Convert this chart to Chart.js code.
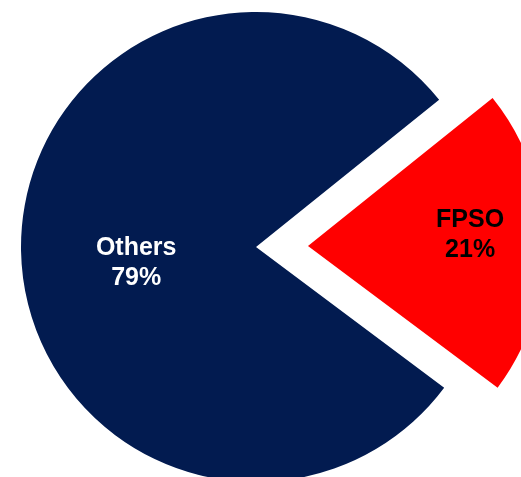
<!DOCTYPE html>
<html>
<head>
<meta charset="utf-8">
<style>
  html, body { margin: 0; padding: 0; background: #fff; overflow: hidden; }
  #wrap { position: relative; width: 521px; height: 477px; }
</style>
<script src="https://cdn.jsdelivr.net/npm/chart.js@4.4.1/dist/chart.umd.min.js"></script>
</head>
<body>
<div id="wrap"><canvas id="pie"></canvas></div>
<script>
'use strict';

// ─── Data ─────────────────────────────────────────────────────────────────────

const categories = ['FPSO', 'Others'];
const shares = [21, 79];
const sliceColors = ['#ff0000', '#021b50'];
const labelColors = ['#000000', '#ffffff'];

// ─── Slice labels (name + percent, drawn inside each slice) ──────────────────

const labelRadius = [0.69, 0.51];
const labelNudgeY = [-8, 14];

const sliceLabels = {
  id: 'sliceLabels',
  afterDatasetsDraw(chart) {
    const { ctx } = chart;
    const arcs = chart.getDatasetMeta(0).data;
    ctx.save();
    ctx.font = 'bold 25px "Liberation Sans", Arial, sans-serif';
    ctx.textAlign = 'center';
    ctx.textBaseline = 'middle';
    arcs.forEach((arc, i) => {
      const { x, y, startAngle, endAngle, outerRadius } = arc.getProps(
        ['x', 'y', 'startAngle', 'endAngle', 'outerRadius'], true);
      const mid = (startAngle + endAngle) / 2;
      const shift = (arc.options.offset || 0) / 4;
      const r = shift + outerRadius * labelRadius[i];
      const lx = x + Math.cos(mid) * r;
      const ly = y + Math.sin(mid) * r + labelNudgeY[i];
      ctx.fillStyle = labelColors[i];
      ctx.fillText(categories[i], lx, ly - 15);
      ctx.fillText(`${shares[i]}%`, lx, ly + 15);
    });
    ctx.restore();
  },
};

// ─── Chart ────────────────────────────────────────────────────────────────────

new Chart(document.getElementById('pie'), {
  type: 'pie',
  data: {
    labels: categories,
    datasets: [
      {
        data: shares,
        backgroundColor: sliceColors,
        borderWidth: 0,
        offset: [208, 0],
      },
    ],
  },
  options: {
    responsive: true,
    maintainAspectRatio: false,
    animation: false,
    rotation: 51.2,
    radius: 235,
    layout: { padding: { left: 0, right: 9, top: 17, bottom: 0 } },
    plugins: {
      legend: { display: false },
      tooltip: { enabled: false },
    },
  },
  plugins: [sliceLabels],
});
</script>
</body>
</html>
